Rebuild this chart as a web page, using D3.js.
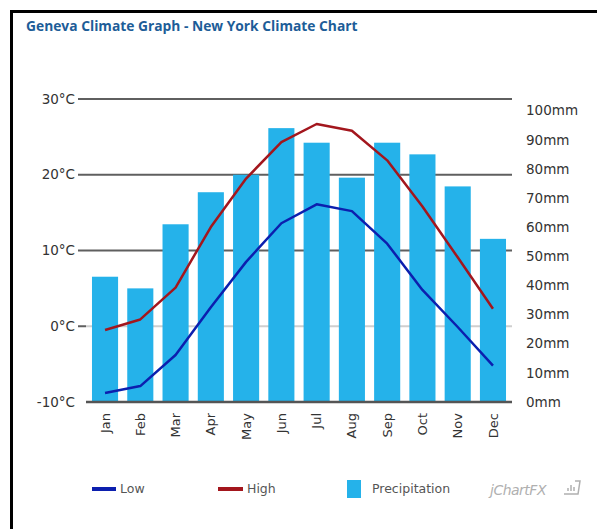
<!DOCTYPE html>
<html>
<head>
<meta charset="utf-8">
<script src="https://cdn.jsdelivr.net/npm/d3@7"></script>
<style>
  body { margin: 0; background: #fff; }
  svg { display: block; font-family: "DejaVu Sans", Verdana, sans-serif; }
</style>
</head>
<body>
<svg width="597" height="529"></svg>
<script>
// chart data
var months = ["Jan", "Feb", "Mar", "Apr", "May", "Jun", "Jul", "Aug", "Sep", "Oct", "Nov", "Dec"];
var lowTemp = [-8.8, -7.9, -3.8, 2.5, 8.5, 13.6, 16.1, 15.2, 10.9, 4.8, -0.1, -5.2];
var highTemp = [-0.5, 0.9, 5.1, 13.1, 19.5, 24.3, 26.7, 25.8, 21.9, 15.8, 9.1, 2.3];
var precipitation = [43, 39, 61, 72, 78, 94, 89, 77, 89, 85, 74, 56];
var tempTicks = [-10, 0, 10, 20, 30];
var rainTicks = [0, 10, 20, 30, 40, 50, 60, 70, 80, 90, 100];

var svg = d3.select("svg");

// frame
svg.append("line").attr("x1", 10).attr("x2", 597).attr("y1", 11.5).attr("y2", 11.5)
    .attr("stroke", "#000").attr("stroke-width", 3);
svg.append("line").attr("x1", 11.5).attr("x2", 11.5).attr("y1", 10).attr("y2", 529)
    .attr("stroke", "#000").attr("stroke-width", 3);

svg.append("text")
    .attr("x", 26)
    .attr("y", 31)
    .attr("fill", "#1d5d98")
    .style("font-family", "'Open Sans', sans-serif")
    .style("font-weight", "700")
    .style("font-size", "13.8px")
    .text("Geneva Climate Graph - New York Climate Chart");

var x = d3.scaleBand().domain(months).range([87.4, 510.6]).paddingInner(0.26).paddingOuter(0.13);
var y = d3.scaleLinear().domain([-10, 30]).range([402, 99]);
var y2 = d3.scaleLinear().domain([0, 104]).range([402, 99]);

// gridlines
tempTicks.forEach(function (t) {
    if (t == -10) return;
    svg.append("line")
        .attr("x1", t == 0 ? 86 : 78).attr("x2", 512)
        .attr("y1", y(t)).attr("y2", y(t))
        .attr("stroke", t == 0 ? "#cfcfcf" : "#5f5f5f")
        .attr("stroke-width", 2);
});
svg.append("line").attr("x1", 78).attr("x2", 86).attr("y1", y(0)).attr("y2", y(0))
    .attr("stroke", "#5f5f5f").attr("stroke-width", 2);

// precipitation bars
svg.selectAll(".bar")
    .data(precipitation)
    .enter().append("rect")
    .attr("class", "bar")
    .attr("x", function (d, i) { return x(months[i]); })
    .attr("y", function (d) { return y2(d); })
    .attr("width", x.bandwidth())
    .attr("height", function (d) { return y2(0) - y2(d); })
    .attr("fill", "#25b2ea");

// bottom axis line
svg.append("line").attr("x1", 86).attr("x2", 512).attr("y1", y(-10)).attr("y2", y(-10))
    .attr("stroke", "#555").attr("stroke-width", 2.5);

var line = d3.line()
    .x(function (d, i) { return x(months[i]) + x.bandwidth() / 2; })
    .y(function (d) { return y(d); });

svg.append("path").datum(highTemp)
    .attr("d", line).attr("fill", "none")
    .attr("stroke", "#a3161d").attr("stroke-width", 2.5).attr("stroke-linejoin", "round");
svg.append("path").datum(lowTemp)
    .attr("d", line).attr("fill", "none")
    .attr("stroke", "#0c1fae").attr("stroke-width", 2.5).attr("stroke-linejoin", "round");

// left axis labels
svg.selectAll(".tl")
    .data(tempTicks)
    .enter().append("text")
    .attr("x", 75)
    .attr("y", function (d) { return y(d); })
    .attr("dy", "0.35em")
    .attr("text-anchor", "end")
    .attr("fill", "#333")
    .style("font-size", "13.5px")
    .text(function (d) { return d + "°C"; });

// right axis labels
svg.selectAll(".rl")
    .data(rainTicks)
    .enter().append("text")
    .attr("x", 526)
    .attr("y", function (d) { return y2(d); })
    .attr("dy", "0.35em")
    .attr("fill", "#333")
    .style("font-size", "13.5px")
    .text(function (d) { return d + "mm"; });

// month labels
svg.selectAll(".ml")
    .data(months)
    .enter().append("text")
    .attr("transform", function (d) {
        return "translate(" + (x(d) + x.bandwidth() / 2) + ",413) rotate(-90)";
    })
    .attr("dy", "0.35em")
    .attr("text-anchor", "end")
    .attr("fill", "#333")
    .style("font-size", "13px")
    .text(function (d) { return d; });

// legend
var legend = svg.append("g").style("font-size", "12.5px").attr("fill", "#555");
legend.append("rect").attr("x", 92).attr("y", 487).attr("width", 24).attr("height", 4).attr("fill", "#0c1fae");
legend.append("text").attr("x", 120).attr("y", 489).attr("dy", "0.35em").text("Low");
legend.append("rect").attr("x", 218).attr("y", 487).attr("width", 25).attr("height", 4).attr("fill", "#a3161d");
legend.append("text").attr("x", 247).attr("y", 489).attr("dy", "0.35em").text("High");
legend.append("rect").attr("x", 347).attr("y", 480).attr("width", 14).attr("height", 18).attr("fill", "#25b2ea");
legend.append("text").attr("x", 372).attr("y", 489).attr("dy", "0.35em").text("Precipitation");

// jChartFX mark
svg.append("text")
    .attr("x", 490).attr("y", 495)
    .attr("fill", "#b0b0b0")
    .style("font-size", "14px")
    .style("font-style", "italic")
    .style("letter-spacing", "-0.5px")
    .text("jChartFX");
var logo = svg.append("g").attr("stroke", "#b0b0b0").attr("fill", "none").attr("stroke-width", 1.5);
logo.append("path").attr("d", "M564,494 L578,494 L580,481 L575,481");
logo.append("path").attr("d", "M568,491 L568,488 M571,491 L571,485 M574,491 L574,487");
</script>
</body>
</html>
